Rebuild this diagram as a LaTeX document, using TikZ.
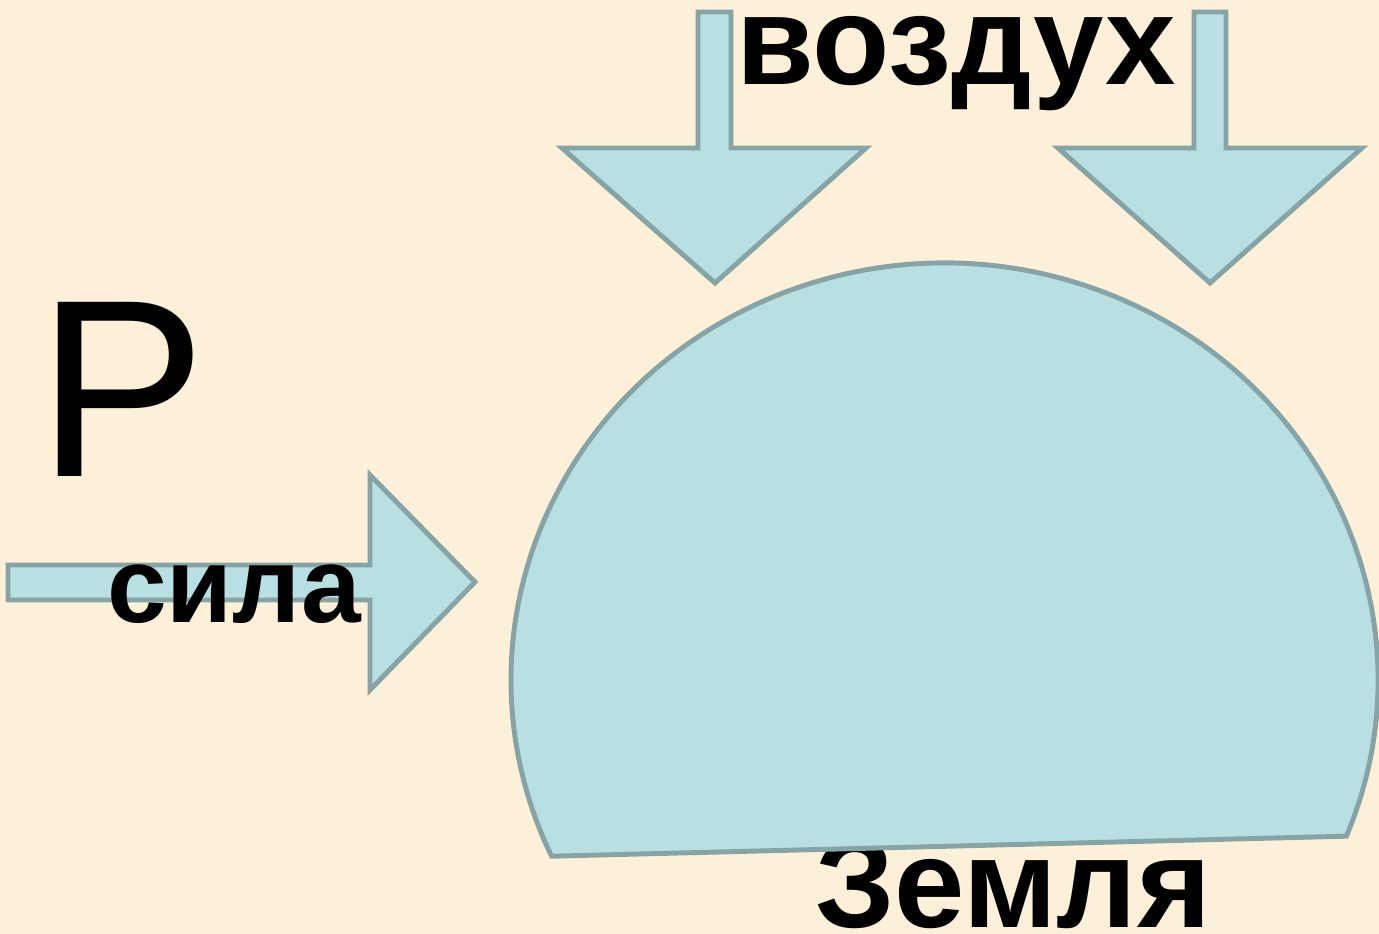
\documentclass[tikz,border=0pt]{standalone}
\usepackage{fontspec}
\setmainfont{Liberation Sans}
\definecolor{paper}{RGB}{253,240,216}
\definecolor{flowfill}{RGB}{184,223,226}
\definecolor{flowline}{RGB}{134,163,165}
\tikzset{
  flow/.style={fill=flowfill, draw=flowline, line width=1.4pt, line join=miter},
  word/.style={inner sep=0pt, anchor=base, font=\bfseries\fontsize{36}{40}\selectfont}
}
\begin{document}
\begin{tikzpicture}[x=0.01cm, y=0.01cm]
    % background
    \fill[paper] (0,0) rectangle (1379,934);
    \useasboundingbox (0,0) rectangle (1379,934);

    % ground text sits behind the dome
    \node[word] (earth) at (1013,6) {Земля};

    % dome
    \draw[flow] (1346.4,97.8) arc[start angle=-22, end angle=205, x radius=433.5, y radius=417] -- cycle;

    % arrows
    \draw[flow] (8,369) -- (370,369) -- (370,459) -- (475,352) -- (370,244) -- (370,334) -- (8,334) -- cycle;
    \draw[flow] (698,922) -- (731,922) -- (731,786) -- (866,786) -- (715,651) -- (562,786) -- (698,786) -- cycle;
    \draw[flow] (1194,922) -- (1226,922) -- (1226,786) -- (1362,786) -- (1210,651) -- (1058,786) -- (1194,786) -- cycle;

    % labels
    \node[word] (air) at (956,849) {воздух};
    \node[word, font=\bfseries\fontsize{30.5}{36}\selectfont] (force) at (234,311) {сила};
    \node[inner sep=0pt, anchor=base, font=\fontsize{72}{80}\selectfont] (pressure) at (122,457) {P};
\end{tikzpicture}
\end{document}
